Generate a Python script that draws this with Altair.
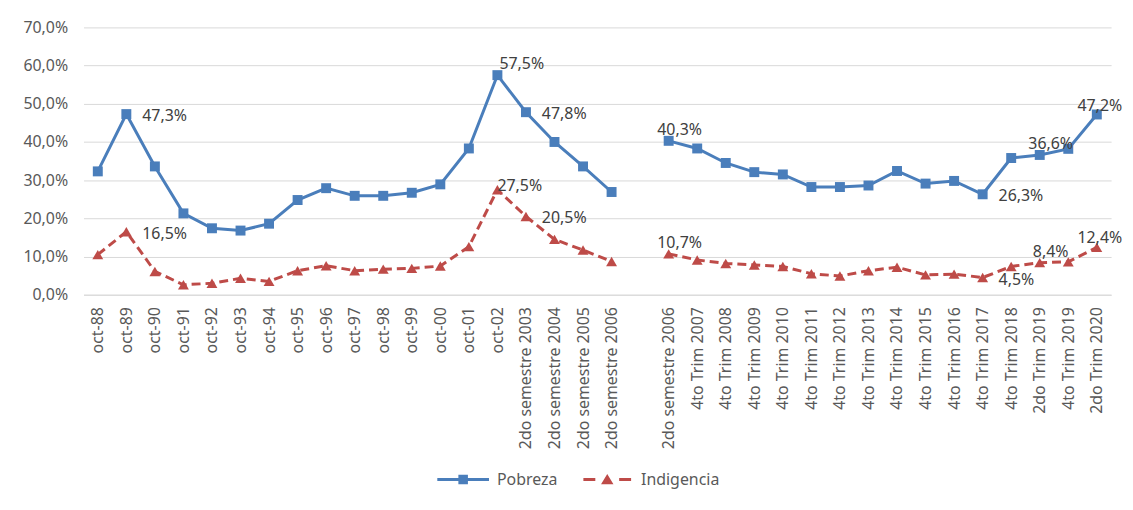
import json
import altair as alt
import pandas as pd

# ---------------- data ----------------
categories_1 = ["oct-88", "oct-89", "oct-90", "oct-91", "oct-92", "oct-93", "oct-94",
                "oct-95", "oct-96", "oct-97", "oct-98", "oct-99", "oct-00", "oct-01",
                "oct-02", "2do semestre 2003", "2do semestre 2004", "2do semestre 2005",
                "2do semestre 2006"]
categories_2 = ["2do semestre 2006", "4to Trim 2007", "4to Trim 2008", "4to Trim 2009",
                "4to Trim 2010", "4to Trim 2011", "4to Trim 2012", "4to Trim 2013",
                "4to Trim 2014", "4to Trim 2015", "4to Trim 2016", "4to Trim 2017",
                "4to Trim 2018", "2do Trim 2019", "4to Trim 2019", "2do Trim 2020"]

pobreza_1 = [32.3, 47.3, 33.6, 21.3, 17.4, 16.8, 18.6, 24.8, 27.9, 25.9, 25.9, 26.7,
             28.9, 38.3, 57.5, 47.8, 40.0, 33.6, 26.9]
pobreza_2 = [40.3, 38.3, 34.5, 32.1, 31.5, 28.2, 28.2, 28.6, 32.4, 29.1, 29.8, 26.3,
             35.8, 36.6, 38.2, 47.2]
indigencia_1 = [10.5, 16.5, 6.1, 2.6, 3.0, 4.3, 3.5, 6.3, 7.6, 6.3, 6.7, 6.9, 7.5,
                12.6, 27.5, 20.5, 14.5, 11.7, 8.7]
indigencia_2 = [10.7, 9.1, 8.2, 7.8, 7.4, 5.5, 4.9, 6.3, 7.2, 5.2, 5.4, 4.5, 7.4,
                8.4, 8.6, 12.4]

# points that carry a data label (segment 1 / segment 2)
labeled_1 = ["oct-89", "oct-02", "2do semestre 2003"]
labeled_2 = ["2do semestre 2006", "4to Trim 2017", "2do Trim 2019", "2do Trim 2020"]

series_names = ["Pobreza", "Indigencia"]
y_ticks = [0, 10, 20, 30, 40, 50, 60, 70]

# ---------------- table ----------------
BLUE = "#4A7EBB"
RED = "#BE4B48"
FONT = "Noto Sans"

offset_2 = len(categories_1) + 1  # one empty slot between the two series blocks
all_labels = categories_1 + [""] + categories_2
n_slots = len(all_labels)

rows = []
for name, v1, v2 in [("Pobreza", pobreza_1, pobreza_2),
                     ("Indigencia", indigencia_1, indigencia_2)]:
    for seg, cats, vals, off, lab in [(1, categories_1, v1, 0, labeled_1),
                                      (2, categories_2, v2, offset_2, labeled_2)]:
        for i, (c, v) in enumerate(zip(cats, vals)):
            rows.append({
                "series": name, "segment": seg, "idx": off + i, "cat": c,
                "value": v, "labeled": c in lab,
                "lbl": f"{v:.1f}".replace(".", ",") + "%",
            })
df = pd.DataFrame(rows)

idx_of_1 = {c: i for i, c in enumerate(categories_1)}
idx_of_2 = {c: offset_2 + i for i, c in enumerate(categories_2)}
right_idx = [idx_of_1["oct-89"], idx_of_1["2do semestre 2003"], idx_of_2["4to Trim 2017"]]
peak_idx = [idx_of_1["oct-02"]]
above_idx = [idx_of_2["2do semestre 2006"], idx_of_2["2do Trim 2019"]]
end_idx = [idx_of_2["2do Trim 2020"]]

# ---------------- encodings ----------------
x_enc = alt.X(
    "idx:O",
    scale=alt.Scale(type="point", domain=list(range(n_slots)), padding=0.5),
    axis=alt.Axis(
        title=None,
        labelExpr=json.dumps(all_labels) + "[datum.value]",
        labelAngle=270,
        labelFontSize=16,
        labelColor="#595959",
        labelPadding=12,
        ticks=False,
        domainColor="#d9d9d9",
        domainWidth=1,
        grid=False,
        labelOverlap=False,
    ),
)
y_enc = alt.Y(
    "value:Q",
    scale=alt.Scale(domain=[0, 70], nice=False, zero=True),
    axis=alt.Axis(
        title=None,
        values=y_ticks,
        labelExpr="replace(format(datum.value, '.1f'), '.', ',') + '%'",
        labelFontSize=16,
        labelColor="#595959",
        labelPadding=16,
        domain=False,
        ticks=False,
        gridColor="#d9d9d9",
        gridWidth=1,
    ),
)

base = alt.Chart(df)
is_p = alt.datum.series == "Pobreza"
is_i = alt.datum.series == "Indigencia"

line_p = base.transform_filter(is_p).mark_line(color=BLUE, strokeWidth=3).encode(
    x=x_enc, y=y_enc, detail="segment:N")
pts_p = base.transform_filter(is_p).mark_point(
    shape="square", filled=True, size=100, color=BLUE, opacity=1).encode(x=x_enc, y=y_enc)
line_i = base.transform_filter(is_i).mark_line(
    color=RED, strokeWidth=3, strokeDash=[9, 5]).encode(x=x_enc, y=y_enc, detail="segment:N")
pts_i = base.transform_filter(is_i).mark_point(
    shape="triangle-up", filled=True, size=120, color=RED, opacity=1).encode(x=x_enc, y=y_enc)

lab_base = base.transform_filter(alt.datum.labeled)
txt_kw = dict(fontSize=16, color="#404040", font=FONT)
lab_right = lab_base.transform_filter(
    alt.FieldOneOfPredicate(field="idx", oneOf=right_idx)
).mark_text(align="left", dx=16, dy=2, **txt_kw).encode(x=x_enc, y=y_enc, text="lbl:N")
lab_peak_p = lab_base.transform_filter(is_p).transform_filter(
    alt.FieldOneOfPredicate(field="idx", oneOf=peak_idx)
).mark_text(align="left", dx=2, dy=-11, **txt_kw).encode(x=x_enc, y=y_enc, text="lbl:N")
lab_peak_i = lab_base.transform_filter(is_i).transform_filter(
    alt.FieldOneOfPredicate(field="idx", oneOf=peak_idx)
).mark_text(align="left", dx=0, dy=-4, **txt_kw).encode(x=x_enc, y=y_enc, text="lbl:N")
lab_above = lab_base.transform_filter(
    alt.FieldOneOfPredicate(field="idx", oneOf=above_idx)
).mark_text(align="center", dx=11, dy=-11, **txt_kw).encode(x=x_enc, y=y_enc, text="lbl:N")
lab_end = lab_base.transform_filter(
    alt.FieldOneOfPredicate(field="idx", oneOf=end_idx)
).mark_text(align="center", dx=3, dy=-9, **txt_kw).encode(x=x_enc, y=y_enc, text="lbl:N")

# legend-only layer (invisible marks, custom line+marker symbols)
path_p = "M-3.25,-0.19H3.25V0.19H-3.25Z M-0.6,-0.6H0.6V0.6H-0.6Z"
path_i = ("M-3,-0.19H-1.5V0.19H-3Z M1.5,-0.19H3V0.19H1.5Z "
          "M0,-0.7L0.78,0.6L-0.78,0.6Z")
legend = alt.Legend(
    title=None, orient="none", legendX=374, legendY=447, direction="horizontal",
    symbolSize=256, symbolOpacity=1, symbolStrokeWidth=0,
    labelFontSize=16, labelFont=FONT, labelColor="#595959",
    labelOffset=26, columnPadding=26, padding=0,
)
legend_layer = base.mark_point(filled=True, opacity=0).encode(
    x=x_enc, y=y_enc,
    color=alt.Color("series:N", scale=alt.Scale(domain=series_names, range=[BLUE, RED]),
                    legend=legend),
    shape=alt.Shape("series:N", scale=alt.Scale(domain=series_names, range=[path_p, path_i]),
                    legend=legend),
)

chart = alt.layer(
    line_p, line_i, pts_p, pts_i, lab_right, lab_peak_p, lab_peak_i, lab_above, lab_end,
    legend_layer
).properties(
    width=1034, height=269,
    padding={"left": 76, "top": 18, "right": 14, "bottom": 200},
    autosize=alt.AutoSizeParams(type="none"),
).configure(
    font=FONT,
).configure_axis(
    labelFont=FONT,
).configure_view(
    stroke=None,
)

chart.save("out.html", embed_options={"renderer": "svg", "actions": False})
